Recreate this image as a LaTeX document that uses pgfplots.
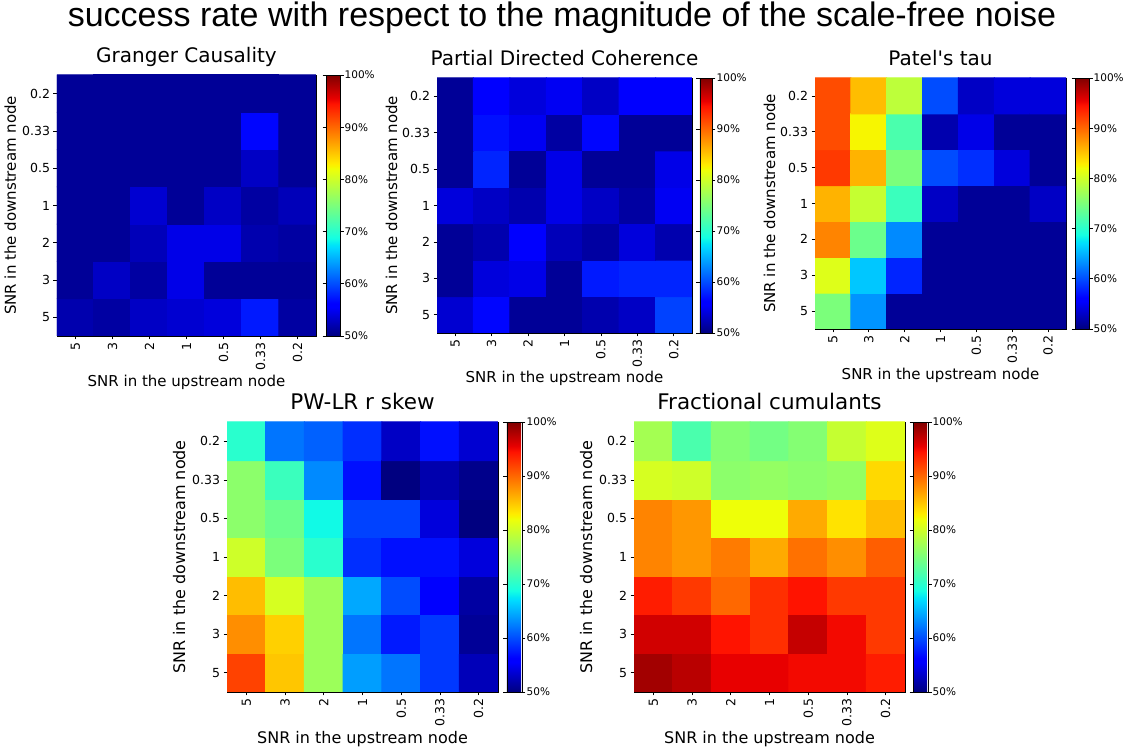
\documentclass[border=0pt]{standalone}
\usepackage{fontspec}
\setmainfont{DejaVu Sans}
\newfontfamily\titlefont{Liberation Sans}
\usepackage{pgfplots}
\pgfplotsset{compat=1.18}
\pgfplotsset{
  colormap={mjet}{rgb(0pt)=(0,0,0.5); rgb(22pt)=(0,0,1); rgb(25pt)=(0,0,1); rgb(68pt)=(0,0.86,1); rgb(70pt)=(0,0.9,0.968); rgb(75pt)=(0.081,1,0.887); rgb(128pt)=(0.935,1,0.032); rgb(130pt)=(0.968,0.963,0); rgb(132pt)=(1,0.926,0); rgb(178pt)=(1,0.074,0); rgb(182pt)=(0.909,0,0); rgb(200pt)=(0.5,0,0)},
  hm/.style={
    scale only axis, enlargelimits=false,
    xmin=-0.5, xmax=6.5, ymin=-0.5, ymax=6.5,
    xtick={0,...,6}, ytick={0,...,6},
    xticklabels={5,3,2,1,0.5,0.33,0.2},
    yticklabels={5,3,2,1,0.5,0.33,0.2},
    xticklabel style={rotate=90, anchor=east},
    tick align=outside, tick pos=left, major tick length=3.5pt,
    tick style={black, line width=0.6pt},
    axis line style={line width=0.7pt},
    ticklabel style={font=\fontsize{12.5}{14}\selectfont},
    colormap name=mjet, point meta min=50, point meta max=100,
    xlabel={SNR in the upstream node}, ylabel={SNR in the downstream node},
    colorbar,
    colorbar shift/.style={},
  },
  cell/.style={matrix plot*, shader=faceted, faceted color=mapped color, line width=1pt, mesh/cols=7, point meta=explicit},
  cb/.style 2 args={colorbar style={
    at={(parent axis.north east)}, anchor=north west, xshift=#1,
    scale only axis, width=#2,
    height=\pgfkeysvalueof{/pgfplots/parent axis height},
    ytick={50,60,70,80,90,100},
    yticklabels={50\%,60\%,70\%,80\%,90\%,100\%},
    yticklabel style={font=\fontsize{10.5}{12}\selectfont, inner xsep=1pt},
    tick align=outside, major tick length=3.5pt,
    tick style={black, line width=0.6pt},
    axis line style={line width=0.7pt},
  }},
  lab/.style n args={4}{
    title style={at={([yshift=6pt]axis description cs:0.5,1)}, anchor=base, font=\fontsize{#1}{#1}\selectfont},
    xlabel style={at={([yshift=-#3]axis description cs:0.5,0)}, anchor=base, font=\fontsize{#2}{#2}\selectfont},
    ylabel style={at={([xshift=-#4]axis description cs:0,0.5)}, anchor=base, font=\fontsize{#2}{#2}\selectfont},
  },
}
\begin{document}
\begin{tikzpicture}
\useasboundingbox (0,0) rectangle (1125pt,751pt);
\node[anchor=base, font=\titlefont\fontsize{34}{40}\selectfont] at (562pt,724pt) {success rate with respect to the magnitude of the scale-free noise};

% Granger Causality
\begin{axis}[hm, at={(57pt,676pt)}, anchor=north west, width=259pt, height=261pt,
  cb={10pt}{14pt}, lab={20}{15}{51pt}{41pt}, title={Granger Causality}]
\addplot[cell] table[meta=c]{
x y c
0 0 52
1 0 51.5
2 0 53
3 0 53.5
4 0 54
5 0 57.5
6 0 51.5
0 1 51
1 1 53
2 1 51.5
3 1 54.5
4 1 51
5 1 51
6 1 51
0 2 51
1 2 51
2 2 52.5
3 2 54.5
4 2 54.5
5 2 52
6 2 51.5
0 3 51
1 3 51
2 3 53.5
3 3 51
4 3 53
5 3 51.5
6 3 52.5
0 4 51
1 4 51
2 4 51
3 4 51
4 4 51
5 4 53
6 4 51
0 5 51
1 5 51
2 5 51
3 5 51
4 5 51
5 5 56.5
6 5 51
0 6 51
1 6 51
2 6 51
3 6 51
4 6 51
5 6 51
6 6 51
};
\end{axis}

% Partial Directed Coherence
\begin{axis}[hm, at={(437pt,673pt)}, anchor=north west, width=255pt, height=255pt,
  cb={8pt}{12pt}, lab={20}{15}{50pt}{40pt}, title={Partial Directed Coherence}]
\addplot[cell] table[meta=c]{
x y c
0 0 53.5
1 0 56.5
2 0 51
3 0 51
4 0 52
5 0 53
6 0 59.5
0 1 51
1 1 54
2 1 54.5
3 1 51
4 1 57.5
5 1 58
6 1 58
0 2 51
1 2 52
2 2 56
3 2 52.5
4 2 51.5
5 2 54
6 2 52
0 3 54
1 3 53
2 3 52
3 3 54.5
4 3 53
5 3 51.5
6 3 55
0 4 51
1 4 58
2 4 51
3 4 54.5
4 4 51
5 4 51
6 4 54.5
0 5 51
1 5 57
2 5 55
3 5 51.5
4 5 56.5
5 5 51
6 5 51
0 6 51
1 6 56
2 6 54
3 6 55
4 6 53
5 6 55.5
6 6 55.5
};
\end{axis}

% Patel's tau
\begin{axis}[hm, at={(815pt,673pt)}, anchor=north west, width=251pt, height=251pt,
  cb={9pt}{14pt}, lab={20}{15}{51pt}{40pt}, title={Patel\textquotesingle s tau}]
\addplot[cell] table[meta=c]{
x y c
0 0 75
1 0 63.5
2 0 51
3 0 51
4 0 51
5 0 51
6 0 51
0 1 81
1 1 66
2 1 58
3 1 51
4 1 51
5 1 51
6 1 51
0 2 88.5
1 2 74
2 2 63
3 2 51
4 2 51
5 2 51
6 2 51
0 3 86
1 3 79.5
2 3 71
3 3 53
4 3 51
5 3 51
6 3 53
0 4 92.5
1 4 86
2 4 75
3 4 60
4 4 58.5
5 4 54
6 4 51
0 5 91.5
1 5 82.5
2 5 72
3 5 52
4 5 54.5
5 5 51
6 5 51
0 6 91.5
1 6 85.5
2 6 79
3 6 60
4 6 53
5 6 54
6 6 54
};
\end{axis}

% PW-LR r skew
\begin{axis}[hm, at={(227pt,329pt)}, anchor=north west, width=271pt, height=270pt,
  cb={9pt}{15pt}, lab={21.5}{16}{52pt}{42pt}, title={PW-LR r skew}]
\addplot[cell] table[meta=c]{
x y c
0 0 92
1 0 85
2 0 77
3 0 64
4 0 62
5 0 59
6 0 52.5
0 1 88
1 1 84.5
2 1 77
3 1 62
4 1 57.5
5 1 59
6 1 51
0 2 85.5
1 2 80.5
2 2 77
3 2 64.5
4 2 60
5 2 55.5
6 2 51.5
0 3 80
1 3 75
2 3 70
3 3 58.5
4 3 57
5 3 57
6 3 54
0 4 76
1 4 74
2 4 68.5
3 4 59.5
4 4 59.5
5 4 54
6 4 50
0 5 76
1 5 71
2 5 63
3 5 57
4 5 50
5 5 52
6 5 50.5
0 6 70
1 6 62
2 6 61
3 6 58.5
4 6 53
5 6 57
6 6 53.5
};
\end{axis}

% Fractional cumulants
\begin{axis}[hm, at={(634pt,329pt)}, anchor=north west, width=271pt, height=270pt,
  cb={8pt}{15pt}, lab={21.5}{16}{52pt}{42pt}, title={Fractional cumulants}]
\addplot[cell] table[meta=c]{
x y c
0 0 98.5
1 0 97.5
2 0 95.5
3 0 95.5
4 0 95
5 0 95
6 0 94
0 1 96.5
1 1 96.5
2 1 94.5
3 1 93
4 1 97
5 1 95
6 1 92.5
0 2 94
1 2 92.5
2 2 90
3 2 93
4 2 94.5
5 2 92.5
6 2 92.5
0 3 88.5
1 3 87.5
2 3 89
3 3 86.5
4 3 89.5
5 3 88
6 3 90.5
0 4 88.5
1 4 87.5
2 4 82
3 4 82
4 4 86.5
5 4 83.5
6 4 85.5
0 5 80.5
1 5 80
2 5 76
3 5 76.5
4 5 76
5 5 76.5
6 5 84
0 6 77.5
1 6 72
2 6 75.5
3 6 74.5
4 6 75.5
5 6 79.5
6 6 81
};
\end{axis}
\end{tikzpicture}
\end{document}
